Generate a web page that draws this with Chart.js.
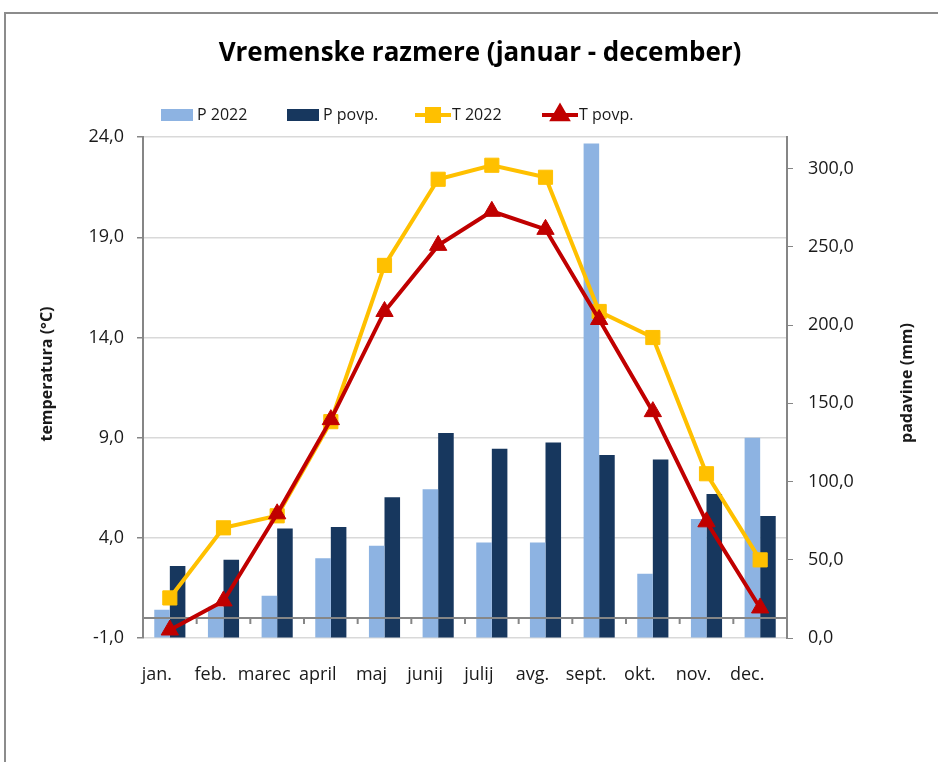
<!DOCTYPE html>
<html>
<head>
<meta charset="utf-8">
<script src="https://cdn.jsdelivr.net/npm/chart.js@4/dist/chart.umd.min.js"></script>
<style>
  html, body { margin: 0; padding: 0; background: #fff; overflow: hidden; }
  #frame { position: absolute; left: 4px; top: 12px; width: 1000px; height: 800px; border: 2px solid #8c8c8c; }
  #wrap { position: absolute; left: 0; top: 0; width: 938px; height: 762px; }
</style>
</head>
<body>
<div id="frame"></div>
<div id="wrap"><canvas id="weatherChart" width="938" height="762"></canvas></div>
<script>
// Chart data
const months = ["jan.", "feb.", "marec", "april", "maj", "junij", "julij", "avg.", "sept.", "okt.", "nov.", "dec."];
const precip2022 = [18, 20, 27, 51, 59, 95, 61, 61, 316, 41, 76, 128];
const precipAvg = [46, 50, 70, 71, 90, 131, 121, 125, 117, 114, 92, 78];
const temp2022 = [1.0, 4.5, 5.1, 9.8, 17.6, 21.9, 22.6, 22.0, 15.3, 14.0, 7.2, 2.9];
const tempAvg = [-0.6, 0.85, 5.2, 9.9, 15.3, 18.6, 20.3, 19.4, 14.9, 10.3, 4.8, 0.5];
const tempTicks = { min: -1, max: 24, step: 5 };
const precipTicks = { min: 0, max: 320, step: 50 };

const FONT = "'Open Sans', 'Noto Sans', sans-serif";
const AXIS_GREY = "#868686";
const TEXT = "#1a1a1a";

// Format with decimal comma, one decimal
function fmt(v) {
  return Number(v).toFixed(1).replace(".", ",");
}

// Legend drawn by hand: boxes for bars, line + marker for lines
const customLegend = {
  id: "customLegend",
  afterDraw(chart) {
    const ctx = chart.ctx;
    const starts = [161, 287, 415, 542];
    const y = 115;
    ctx.save();
    ctx.font = "16px " + FONT;
    ctx.textBaseline = "middle";
    chart.data.datasets.forEach((ds, i) => {
      const x = starts[i];
      if (ds.type === "bar") {
        ctx.fillStyle = ds.backgroundColor;
        ctx.fillRect(x, y - 6, 32, 12);
      } else {
        ctx.strokeStyle = ds.borderColor;
        ctx.lineWidth = 4;
        ctx.beginPath();
        ctx.moveTo(x, y);
        ctx.lineTo(x + 36, y);
        ctx.stroke();
        ctx.fillStyle = ds.pointBackgroundColor;
        ctx.strokeStyle = ds.pointBorderColor;
        Chart.helpers.drawPoint(ctx, {
          pointStyle: ds.pointStyle,
          radius: ds.pointRadius * 0.85,
          borderWidth: 1,
          rotation: 0,
        }, x + 18, y);
      }
      ctx.fillStyle = TEXT;
      ctx.textAlign = "left";
      ctx.fillText(ds.label, x + (ds.type === "bar" ? 36 : 37), y);
    });
    ctx.restore();
  },
};

// Axis titles, both reading bottom to top
const axisTitles = {
  id: "axisTitles",
  afterDraw(chart) {
    const ctx = chart.ctx;
    ctx.save();
    ctx.font = "bold 16px " + FONT;
    ctx.fillStyle = TEXT;
    ctx.textAlign = "center";
    ctx.textBaseline = "middle";
    [["temperatura (°C)", 47, 374], ["padavine (mm)", 907, 383]].forEach(([t, x, y]) => {
      ctx.save();
      ctx.translate(x, y);
      ctx.rotate(-Math.PI / 2);
      ctx.fillText(t, 0, 0);
      ctx.restore();
    });
    ctx.restore();
  },
};

// Category axis line crossing at 0 °C, drawn over the bars, under the lines
const zeroAxis = {
  id: "zeroAxis",
  afterDatasetDraw(chart, args) {
    if (args.index !== 0) return;
    const { ctx, chartArea } = chart;
    const xs = chart.scales.x;
    const y0 = chart.scales.y.getPixelForValue(0);
    ctx.save();
    ctx.strokeStyle = AXIS_GREY;
    ctx.lineWidth = 2;
    ctx.beginPath();
    ctx.moveTo(chartArea.left, y0);
    ctx.lineTo(chartArea.right, y0);
    for (let i = 1; i < months.length; i++) {
      const bx = (xs.getPixelForValue(i - 1) + xs.getPixelForValue(i)) / 2;
      ctx.moveTo(bx, y0);
      ctx.lineTo(bx, y0 + 6);
    }
    ctx.stroke();
    ctx.restore();
  },
};

const ctx = document.getElementById("weatherChart").getContext("2d");
new Chart(ctx, {
  data: {
    labels: months,
    datasets: [
      {
        type: "bar",
        label: "P 2022",
        data: precip2022,
        yAxisID: "y1",
        backgroundColor: "#8db3e2",
        categoryPercentage: 0.58,
        barPercentage: 1.0,
        order: 3,
      },
      {
        type: "bar",
        label: "P povp.",
        data: precipAvg,
        yAxisID: "y1",
        backgroundColor: "#17375e",
        categoryPercentage: 0.58,
        barPercentage: 1.0,
        order: 3,
      },
      {
        type: "line",
        label: "T 2022",
        data: temp2022,
        yAxisID: "y",
        borderColor: "#ffc000",
        borderWidth: 4,
        pointStyle: "rect",
        pointRadius: 10,
        pointBackgroundColor: "#ffc000",
        pointBorderColor: "#ffc000",
        pointBorderWidth: 1,
        tension: 0,
        order: 1,
      },
      {
        type: "line",
        label: "T povp.",
        data: tempAvg,
        yAxisID: "y",
        borderColor: "#c00000",
        borderWidth: 4,
        pointStyle: "triangle",
        pointRadius: 10,
        pointBackgroundColor: "#c00000",
        pointBorderColor: "#c00000",
        pointBorderWidth: 1,
        tension: 0,
        order: 0,
      },
    ],
  },
  options: {
    responsive: false,
    animation: false,
    layout: { padding: { left: 22, right: 0, top: 0, bottom: 64 } },
    plugins: {
      legend: { display: false },
      tooltip: { enabled: false },
      title: {
        display: true,
        text: "Vremenske razmere (januar - december)",
        color: "#000",
        font: { family: FONT, size: 26, weight: "bold" },
        padding: { top: 38, bottom: 68 },
      },
    },
    scales: {
      x: {
        grid: { display: false },
        border: { display: false },
        ticks: {
          color: TEXT,
          font: { family: FONT, size: 18 },
          padding: 18,
          labelOffset: -13,
          maxRotation: 0,
          autoSkip: false,
        },
        afterFit: (scale) => { scale.height = 60; },
      },
      y: {
        position: "left",
        min: tempTicks.min,
        max: tempTicks.max,
        ticks: {
          stepSize: tempTicks.step,
          color: TEXT,
          font: { family: FONT, size: 18 },
          padding: 13,
          callback: (v) => fmt(v),
        },
        grid: { color: "#d9d9d9", lineWidth: 1.5, tickLength: 6, tickColor: AXIS_GREY },
        border: { color: AXIS_GREY, width: 2 },
        afterFit: (scale) => { scale.width = 121; },
      },
      y1: {
        position: "right",
        min: precipTicks.min,
        max: precipTicks.max,
        ticks: {
          stepSize: precipTicks.step,
          includeBounds: false,
          color: TEXT,
          font: { family: FONT, size: 18 },
          padding: 15,
          callback: (v) => fmt(v),
        },
        grid: { drawOnChartArea: false, tickLength: 6, tickColor: AXIS_GREY },
        border: { color: AXIS_GREY, width: 2 },
        afterFit: (scale) => { scale.width = 151; },
      },
    },
  },
  plugins: [zeroAxis, customLegend, axisTitles],
});
</script>
</body>
</html>
